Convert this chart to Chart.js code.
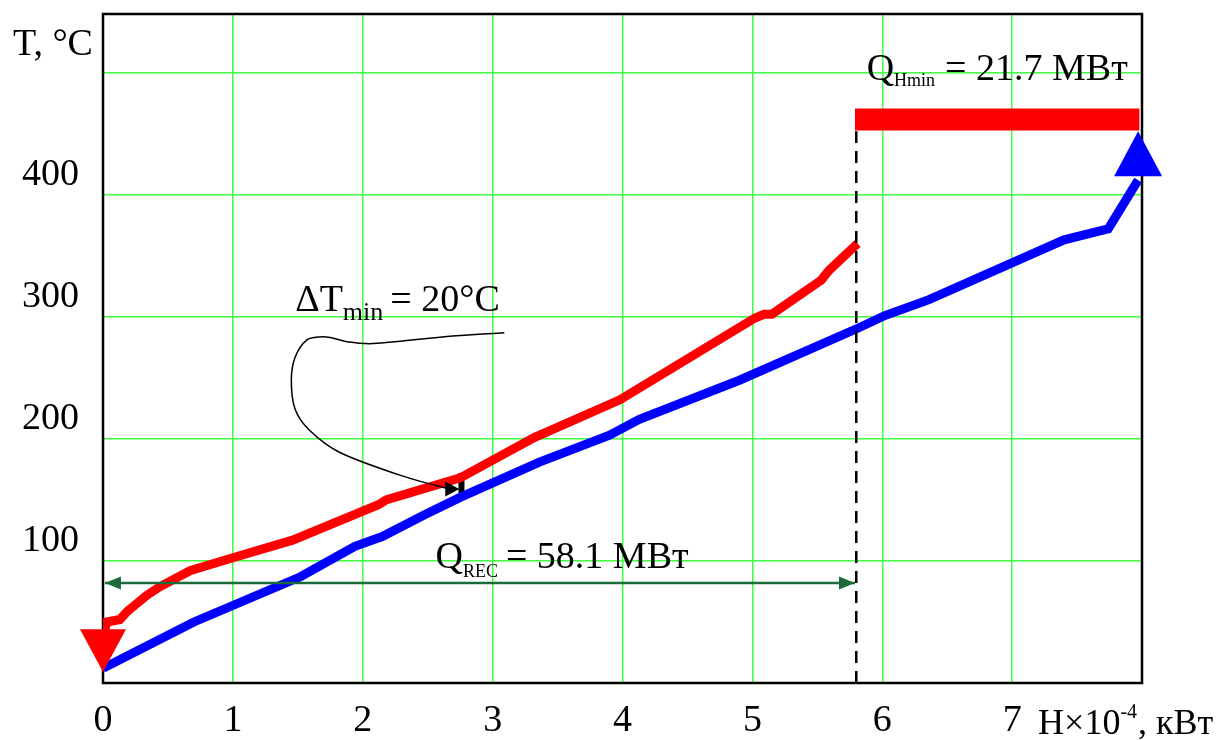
<!DOCTYPE html>
<html>
<head>
<meta charset="utf-8">
<script src="https://cdn.jsdelivr.net/npm/chart.js@4.4.0/dist/chart.umd.min.js"></script>
<style>
  html, body { margin: 0; padding: 0; background: #fff; }
  #wrap { width: 1224px; height: 740px; }
</style>
</head>
<body>
<div id="wrap"><canvas id="tqChart" width="1224" height="740"></canvas></div>
<script>
// hot stream (red), H x 10^-4 kW vs T, °C
const hotH = [0.01, 0.03, 0.13, 0.19, 0.34, 0.44, 0.67, 0.98, 1.46, 2.12, 2.18, 2.75, 3.32, 3.98, 5.02, 5.09, 5.15, 5.53, 5.59, 5.81];
const hotT = [42, 50, 52, 59, 72, 79, 92, 102, 117, 146, 150, 168, 201, 232, 299, 302, 302, 330, 338, 360];
// cold stream (blue)
const coldH = [0.0, 0.7, 1.52, 1.94, 2.15, 2.48, 2.75, 3.36, 3.9, 4.13, 4.9, 5.82, 6.02, 6.36, 7.4, 7.74, 7.97];
const coldT = [12, 50, 87, 112, 120, 138, 152, 181, 203, 216, 248, 291, 301, 314, 363, 372, 412];
// hot utility Q_Hmin
const utilH = [5.79, 7.98];
const utilT = [461.5, 461.5];
// pinch / recovery markers
const pinchH = 5.8;
const pinchTopT = 452;
const recT = 82;
const recH = [0.015, 5.79];
const dTminH = 2.76;
const dTminT = [151, 172];
// hand-drawn leader line to the ΔTmin mark
const leaderH = [3.09, 2.67, 2.08, 1.88, 1.75, 1.67, 1.57, 1.48, 1.45, 1.48, 1.59, 1.82, 2.28, 2.63, 2.72];
const leaderT = [287, 284, 278, 279.5, 283, 283.5, 281, 267, 248, 224, 207, 189, 170.5, 160, 159];
// ticks
const yTickLabels = [100, 200, 300, 400];
const xTickLabels = [0, 1, 2, 3, 4, 5, 6, 7];

const pts = (xs, ys) => xs.map((x, i) => ({ x: x, y: ys[i] }));
const serif = '"Liberation Serif", "DejaVu Serif", serif';

function arrowHead(ctx, tipX, tipY, baseX, baseY, halfW, color) {
    const dx = tipX - baseX, dy = tipY - baseY;
    const len = Math.hypot(dx, dy);
    const nx = -dy / len, ny = dx / len;
    ctx.beginPath();
    ctx.moveTo(tipX, tipY);
    ctx.lineTo(baseX + nx * halfW, baseY + ny * halfW);
    ctx.lineTo(baseX - nx * halfW, baseY - ny * halfW);
    ctx.closePath();
    ctx.fillStyle = color;
    ctx.fill();
}

function subText(ctx, x, y, parts) {
    // parts: [text, size, dy, gapAfter]
    let cx = x;
    parts.forEach(p => {
        ctx.font = p[1] + 'px ' + serif;
        ctx.fillText(p[0], cx, y + p[2]);
        cx += ctx.measureText(p[0]).width + (p[3] || 0);
    });
}

const noPad = (s) => { s.paddingTop = 0; s.paddingBottom = 0; s.paddingLeft = 0; s.paddingRight = 0; };

const frame = {
    id: 'frame',
    beforeDatasetsDraw(chart) {
        const { ctx, chartArea: a } = chart;
        ctx.save();
        ctx.strokeStyle = '#000';
        ctx.lineWidth = 2.5;
        ctx.strokeRect(a.left, a.top, a.right - a.left, a.bottom - a.top);
        ctx.restore();
    },
    afterDatasetsDraw(chart) {
        const { ctx, scales: { x, y } } = chart;
        ctx.save();
        // red arrow (hot stream end)
        arrowHead(ctx, x.getPixelForValue(0), y.getPixelForValue(9), x.getPixelForValue(0), y.getPixelForValue(44), 23, '#ff0000');
        // blue arrow (cold stream end)
        arrowHead(ctx, x.getPixelForValue(7.97), y.getPixelForValue(452), x.getPixelForValue(7.97), y.getPixelForValue(415), 24, '#0000ff');
        // recovery arrow heads
        const ry = y.getPixelForValue(recT);
        const rl = x.getPixelForValue(recH[0]), rr = x.getPixelForValue(recH[1]);
        arrowHead(ctx, rl, ry, rl + 16, ry, 6.5, '#1b6b3a');
        arrowHead(ctx, rr, ry, rr - 16, ry, 6.5, '#1b6b3a');
        // leader arrow head
        const n = leaderH.length;
        const lx = x.getPixelForValue(leaderH[n - 1]), ly = y.getPixelForValue(leaderT[n - 1]);
        arrowHead(ctx, lx + 3, ly, lx - 11, ly, 7.5, '#000');

        ctx.fillStyle = '#000';
        ctx.textBaseline = 'alphabetic';
        ctx.textAlign = 'left';
        subText(ctx, x.getPixelForValue(1.48), y.getPixelForValue(305), [['ΔT', 38, 0], ['min', 26, 9, 7], ['= 20°C', 38, 0]]);
        subText(ctx, x.getPixelForValue(2.56), y.getPixelForValue(94), [['Q', 38, 0], ['REC', 18, 9, 8], ['= 58.1 МВт', 38, 0]]);
        subText(ctx, x.getPixelForValue(5.88), y.getPixelForValue(494), [['Q', 38, 0], ['Hmin', 18, 6, 10], ['= 21.7 МВт', 38, 0]]);
        // axis titles
        subText(ctx, 13, 55, [['T, °C', 38, 0]]);
        subText(ctx, x.getPixelForValue(7.2), 734, [['H×10', 36, 0], ['-4', 20, -16, 1], [', кВт', 36, 0]]);
        ctx.restore();
    }
};

new Chart(document.getElementById('tqChart'), {
    type: 'scatter',
    data: {
        datasets: [
            {
                data: pts(leaderH, leaderT),
                showLine: true,
                borderColor: '#000',
                borderWidth: 1.5,
                tension: 0.3,
                pointRadius: 0
            },
            {
                data: pts([pinchH, pinchH], [0, pinchTopT]),
                showLine: true,
                borderColor: '#000',
                borderWidth: 2.5,
                borderDash: [12, 8],
                pointRadius: 0
            },
            {
                data: pts(recH, [recT, recT]),
                showLine: true,
                borderColor: '#1b6b3a',
                borderWidth: 2.5,
                pointRadius: 0
            },
            {
                data: pts(coldH, coldT),
                showLine: true,
                borderColor: '#0000ff',
                borderWidth: 9,
                pointRadius: 0
            },
            {
                data: pts(hotH, hotT),
                showLine: true,
                borderColor: '#ff0000',
                borderWidth: 9,
                pointRadius: 0
            },
            {
                data: pts(utilH, utilT),
                showLine: true,
                borderColor: '#ff0000',
                borderWidth: 22,
                borderCapStyle: 'butt',
                pointRadius: 0
            },
            {
                data: pts([dTminH, dTminH], dTminT),
                showLine: true,
                borderColor: '#000',
                borderWidth: 6,
                borderCapStyle: 'butt',
                pointRadius: 0
            }
        ]
    },
    options: {
        responsive: false,
        animation: false,
        layout: { padding: { top: 14, right: 82, left: 0, bottom: 0 } },
        plugins: {
            legend: { display: false },
            tooltip: { enabled: false }
        },
        scales: {
            x: {
                type: 'linear',
                min: 0,
                max: 8,
                afterFit: (s) => { s.height = 57; noPad(s); },
                border: { display: false },
                grid: { color: '#3dff3d', lineWidth: 1.5, drawTicks: false },
                ticks: {
                    stepSize: 1,
                    padding: 15,
                    color: '#000',
                    font: { family: serif, size: 38 },
                    callback: (v) => xTickLabels.includes(v) ? String(v) : ''
                }
            },
            y: {
                type: 'linear',
                min: 0,
                max: 548,
                afterFit: (s) => { s.width = 103; noPad(s); },
                border: { display: false },
                grid: { color: '#3dff3d', lineWidth: 1.5, drawTicks: false },
                ticks: {
                    stepSize: 100,
                    padding: 24,
                    labelOffset: -20,
                    color: '#000',
                    font: { family: serif, size: 38 },
                    callback: (v) => yTickLabels.includes(v) ? String(v) : ''
                }
            }
        }
    },
    plugins: [frame]
});
</script>
</body>
</html>
